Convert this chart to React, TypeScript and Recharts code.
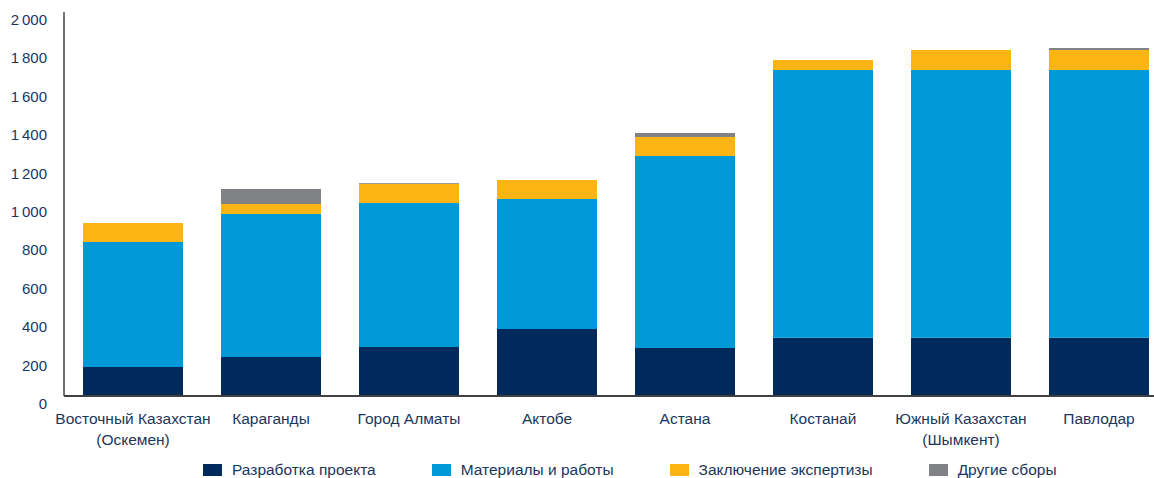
import React from "react";
import { BarChart, Bar, XAxis, YAxis } from "recharts";

const categories = [
  "Восточный Казахстан\n(Оскемен)",
  "Караганды",
  "Город Алматы",
  "Актобе",
  "Астана",
  "Костанай",
  "Южный Казахстан\n(Шымкент)",
  "Павлодар",
];
const razrabotka = [151, 203, 255, 349, 250, 304, 304, 304];
const materialy = [651, 745, 750, 677, 1000, 1394, 1394, 1394];
const ekspertiza = [99, 52, 101, 99, 99, 52, 104, 104];
const drugie = [0, 78, 3, 0, 21, 0, 0, 10];
const yTicks = [0, 200, 400, 600, 800, 1000, 1200, 1400, 1600, 1800, 2000];

const seriesNames = ["Разработка проекта", "Материалы и работы", "Заключение экспертизы", "Другие сборы"];
const seriesKeys = ["r", "m", "e", "d"];
const seriesColors = ["#002A5C", "#0099D8", "#FDB515", "#818285"];

const data = categories.map((c, i) => ({
  name: c,
  r: razrabotka[i],
  m: materialy[i],
  e: ekspertiza[i],
  d: drugie[i],
}));

const FONT = "'Liberation Sans', Arial, sans-serif";
const TEXT = "#1B365D";
const FS = 15.5;

const fmt = (v: number) => {
  const s = String(v);
  return s.length > 3 ? s.slice(0, s.length - 3) + "\u2009" + s.slice(-3) : s;
};

const YTick = (props: any) => {
  const { y, payload } = props;
  return (
    <text x={47} y={y + 7.5} dy="0.36em" textAnchor="end" fill={TEXT} fontSize={15} fontFamily={FONT}>
      {fmt(payload.value)}
    </text>
  );
};

const XTick = (props: any) => {
  const { x, payload } = props;
  const lines = String(payload.value).split("\n");
  return (
    <text x={x} y={396} textAnchor="middle" fill={TEXT} fontSize={FS} fontFamily={FONT}>
      {lines.map((l, i) => (
        <tspan key={i} x={x} dy={i === 0 ? 27.5 : 21.7}>
          {l}
        </tspan>
      ))}
    </text>
  );
};

export default function App() {
  return (
    <div style={{ position: "fixed", left: 0, top: 0, width: 1154, height: 478, overflow: "hidden", background: "#fff" }}>
      <BarChart
        width={1170}
        height={478}
        data={data}
        margin={{ top: 12, right: 2, left: 0, bottom: 0 }}
        barSize={100}
      >
        <XAxis
          dataKey="name"
          interval={0}
          tick={<XTick />}
          tickLine={false}
          height={82}
          axisLine={{ stroke: "#404040", strokeWidth: 2 }}
        />
        <YAxis
          domain={[0, 2000]}
          ticks={yTicks}
          width={64}
          tick={<YTick />}
          tickLine={false}
          axisLine={{ stroke: "#404040", strokeWidth: 1.5 }}
          interval={0}
        />
        {seriesKeys.map((k, i) => (
          <Bar key={k} dataKey={k} name={seriesNames[i]} stackId="a" fill={seriesColors[i]} isAnimationActive={false} />
        ))}
      </BarChart>
      <div
        style={{
          position: "absolute",
          left: 203,
          top: 462,
          height: 16,
          display: "flex",
          alignItems: "center",
          gap: 56,
          fontFamily: FONT,
          fontSize: FS,
          lineHeight: "16px",
          color: TEXT,
          whiteSpace: "nowrap",
        }}
      >
        {seriesNames.map((n, i) => (
          <div key={n} style={{ display: "flex", alignItems: "center" }}>
            <div style={{ width: 19, height: 12, background: seriesColors[i], marginRight: 10 }} />
            <span>{n}</span>
          </div>
        ))}
      </div>
    </div>
  );
}
